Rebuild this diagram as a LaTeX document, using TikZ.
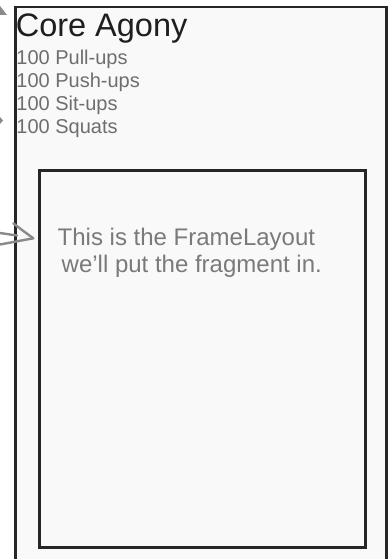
\documentclass[tikz,border=0pt]{standalone}
\usepackage{fontspec}
\setmainfont{Liberation Sans}
\definecolor{bordercol}{HTML}{262626}
\definecolor{screenfill}{HTML}{F9F9F9}
\definecolor{titlecol}{HTML}{1E1E1E}
\definecolor{itemcol}{HTML}{6E6E6E}
\definecolor{notecol}{HTML}{7A7A7A}
\definecolor{arrowcol}{HTML}{8A8A8A}
\begin{document}
\begin{tikzpicture}[x=1pt,y=-1pt,
  itemtext/.style={anchor=base west,inner sep=0pt,text=itemcol,font=\fontsize{20}{22}\selectfont},
  notetext/.style={anchor=base west,inner sep=0pt,text=notecol,font=\fontsize{24}{28}\selectfont},
  handarrow/.style={draw=arrowcol,line width=2.4pt,line cap=round,line join=round}]
\useasboundingbox (0,0) rectangle (388,559);
\begin{scope}
\clip (0,0) rectangle (388,559);
% outer screen (bottom runs off the picture)
\path[fill=screenfill,draw=bordercol,line width=2.8pt] (15.3,7) rectangle (386.3,575);
\end{scope}
% inner frame layout
\node[draw=bordercol,line width=3pt,fill=screenfill,inner sep=0pt,minimum width=325.7pt,minimum height=377.6pt,anchor=north west] (frame) at (38.3,168.7) {};
% texts
\node[anchor=base west,inner sep=0pt,text=titlecol,font=\fontsize{32.5}{36}\selectfont] (title) at (15.6,36.7) {Core Agony};
\node[itemtext] (i1) at (16.2,65) {100 Pull-ups};
\node[itemtext] (i2) at (16.2,87.7) {100 Push-ups};
\node[itemtext] (i3) at (16.2,110.4) {100 Sit-ups};
\node[itemtext] (i4) at (16.2,133.1) {100 Squats};
\node[notetext] (n1) at (57.5,245) {This is the FrameLayout};
\node[notetext] (n2) at (61.5,272) {we'll put the fragment in.};
% arrow pieces coming from outside the picture
\coordinate (tip) at (33.3,238.3);
\coordinate (wing) at (13.3,223.3);
\coordinate (shaftA) at (0,233);
\coordinate (shaftB) at (0,244.5);
\draw[handarrow] (wing) .. controls (22,230) .. (tip);
\draw[handarrow] (shaftA) -- (17,235.5);
\draw[handarrow] (shaftB) -- (tip);
\fill[arrowcol] (0,6) -- (7,15) -- (0,15) -- cycle;
\fill[arrowcol] (0,117) -- (3,120.5) -- (0,124) -- cycle;
\end{tikzpicture}
\end{document}
